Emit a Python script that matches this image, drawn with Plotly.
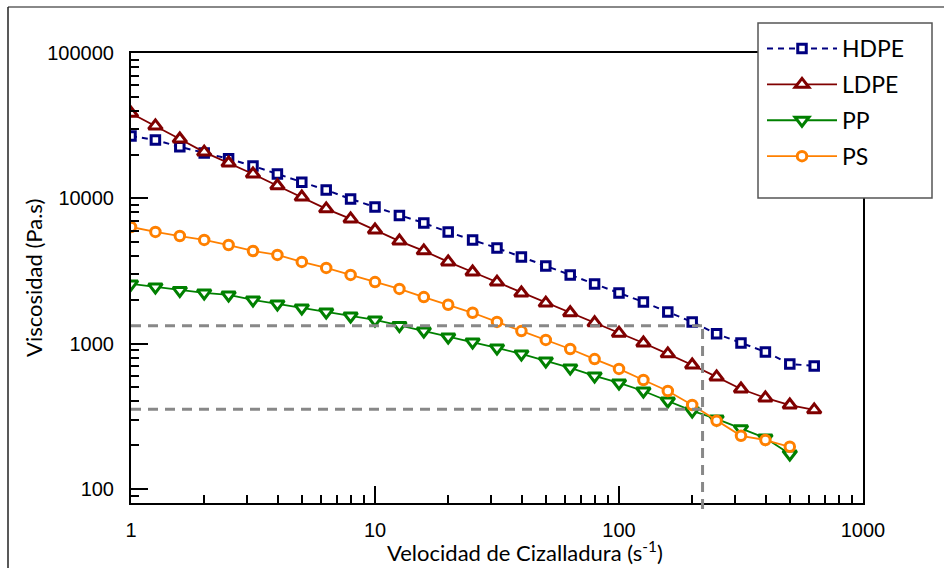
import math
import plotly.graph_objects as go

# ---------------- data ----------------
shear_rate = [1, 1.259, 1.585, 1.995, 2.512, 3.162, 3.981, 5.012, 6.31, 7.943,
              10, 12.59, 15.85, 19.95, 25.12, 31.62, 39.81, 50.12, 63.1, 79.43,
              100, 125.9, 158.5, 199.5, 251.2, 316.2, 398.1, 501.2, 631.0]

hdpe = [26800, 25200, 22600, 20500, 18700, 16700, 14700, 12900, 11400, 9900,
        8720, 7600, 6760, 5860, 5170, 4550, 3950, 3420, 2970, 2570,
        2230, 1935, 1650, 1410, 1167, 1010, 877, 725, 702]

ldpe = [38500, 31500, 25600, 20800, 17500, 14700, 12200, 10200, 8460, 7210,
        6050, 5080, 4350, 3650, 3110, 2650, 2230, 1900, 1630, 1390,
        1180, 1010, 850, 713, 590, 487, 423, 378, 350]

pp = [2574, 2455, 2322, 2232, 2162, 1998, 1875, 1760, 1651, 1550,
      1455, 1334, 1222, 1111, 1027, 934, 849, 760, 680, 599,
      536, 472, 403, 344, 303, 259, 224, 174]

ps = [6350, 5870, 5500, 5170, 4770, 4340, 4080, 3650, 3320, 2970,
      2650, 2380, 2090, 1850, 1630, 1410, 1220, 1060, 918, 783,
      670, 562, 472, 378, 294, 232, 217, 195]

x_ticks = [1, 10, 100, 1000]
x_ticktext = ["1", "10", "100", "1000"]
y_ticks = [100, 1000, 10000, 100000]
y_ticktext = ["100", "1000", "10000", "100000"]

ref_rate = 220            # vertical reference line (s^-1)
ref_visc = [1329, 353]    # horizontal reference lines (Pa.s)

x_range = [1, 1000]
y_range = [80, 100000]

# ---------------- layout geometry (pixels) ----------------
W, H = 944, 568
L, R, T, B = 131, 863, 53, 503


def px(x):
    return (x - L) / (R - L)


def py(y):
    return (B - y) / (B - T)


TITLE_FONT = "Lato, Roboto, 'Noto Sans', sans-serif"
TICK_FONT = "'Liberation Sans', Arial, sans-serif"

fig = go.Figure()

series = [
    ("HDPE", hdpe, "#000080", "square", 8.5, "6px,5px", 2.0),
    ("LDPE", ldpe, "#800000", "triangle-up", 12, "solid", 1.8),
    ("PP", pp, "#008000", "triangle-down", 12, "solid", 1.8),
    ("PS", ps, "#ff8000", "circle", 9.5, "solid", 1.8),
]

for name, vals, col, sym, size, dash, lw in series:
    fig.add_trace(go.Scatter(
        x=shear_rate[:len(vals)], y=vals, name=name, legendgroup=name,
        mode="lines+markers",
        line=dict(color=col, width=lw, dash=dash),
        marker=dict(symbol=sym, size=size, color="white",
                    line=dict(color=col, width=3)),
    ))

minor_x = [m * 10 ** k for k in range(0, 3) for m in range(2, 10)]
minor_y = [m * 10 ** k for k in range(1, 5) for m in range(2, 10)]

fig.update_xaxes(
    type="log", range=[math.log10(x_range[0]), math.log10(x_range[1])],
    showgrid=False, zeroline=False,
    showline=True, linecolor="black", linewidth=2, mirror=True,
    ticks="inside", ticklen=17, tickwidth=2, tickcolor="black",
    tickvals=x_ticks, ticktext=x_ticktext,
    tickfont=dict(family=TICK_FONT, size=20, color="black"),
    ticklabelstandoff=8,
    minor=dict(tickvals=minor_x, ticks="inside", ticklen=8, tickwidth=2,
               tickcolor="black", showgrid=False),
)
fig.update_yaxes(
    type="log", range=[math.log10(y_range[0]), math.log10(y_range[1])],
    showgrid=False, zeroline=False,
    showline=True, linecolor="black", linewidth=2, mirror=True,
    ticks="inside", ticklen=17, tickwidth=2, tickcolor="black",
    tickvals=y_ticks, ticktext=y_ticktext,
    tickfont=dict(family=TICK_FONT, size=20, color="black"),
    ticklabelstandoff=11,
    minor=dict(tickvals=minor_y, ticks="inside", ticklen=8, tickwidth=2,
               tickcolor="black", showgrid=False),
)

shapes = []
dash_line = dict(color="#888888", width=3, dash="10px,7px")
for v in ref_visc:
    shapes.append(dict(type="line", xref="x", yref="y", x0=x_range[0], x1=ref_rate,
                       y0=v, y1=v, line=dash_line, layer="above"))
ytop = (math.log10(ref_visc[0]) - math.log10(y_range[0])) / (math.log10(y_range[1]) - math.log10(y_range[0]))
shapes.append(dict(type="line", xref="x", yref="paper", x0=ref_rate, x1=ref_rate,
                   y0=py(509), y1=ytop, line=dash_line, layer="above"))
# legend box
shapes.append(dict(type="rect", xref="paper", yref="paper",
                   x0=px(758), x1=px(932), y0=py(198), y1=py(23),
                   fillcolor="white", line=dict(color="#555555", width=1.5), layer="above"))
# outer frame
shapes.append(dict(type="line", xref="paper", yref="paper", x0=px(8), x1=px(950),
                   y0=py(7), y1=py(7), line=dict(color="#888888", width=2)))
shapes.append(dict(type="line", xref="paper", yref="paper", x0=px(8), x1=px(8),
                   y0=py(7), y1=py(575), line=dict(color="#222222", width=1.5)))

fig.update_layout(
    width=W, height=H,
    margin=dict(l=L, r=W - R, t=T, b=H - B),
    paper_bgcolor="white", plot_bgcolor="white",
    shapes=shapes,
    showlegend=True,
    legend=dict(x=px(762), y=py(27), xanchor="left", yanchor="top",
                bgcolor="rgba(0,0,0,0)", borderwidth=0,
                font=dict(family=TITLE_FONT, size=23, color="black"),
                itemwidth=70, traceorder="grouped", tracegroupgap=3),
    annotations=[
        dict(text="Velocidad de Cizalladura (s<sup>-1</sup>)", xref="paper", yref="paper",
             x=px(525), y=py(551), xanchor="center", yanchor="middle", showarrow=False,
             font=dict(family=TITLE_FONT, size=22, color="black")),
        dict(text="Viscosidad (Pa.s)", xref="paper", yref="paper",
             x=px(33), y=py(278), xanchor="center", yanchor="middle", showarrow=False,
             textangle=-90, font=dict(family=TITLE_FONT, size=22, color="black")),
    ],
)

fig.write_html("out.html")
